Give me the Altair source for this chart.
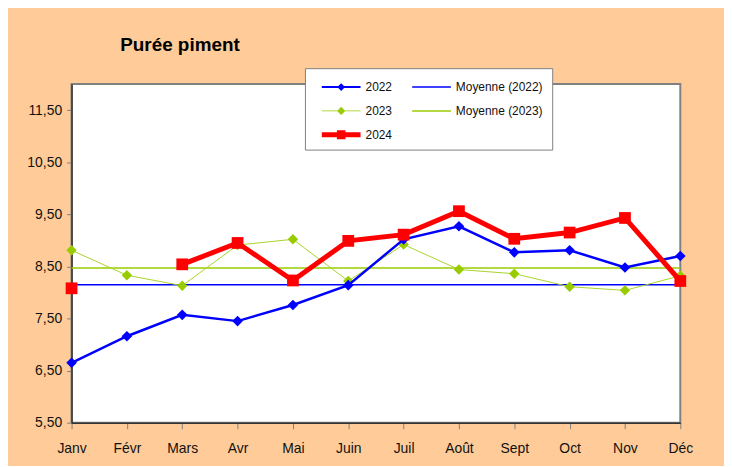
import altair as alt
import pandas as pd

mois = ["Janv", "Févr", "Mars", "Avr", "Mai", "Juin", "Juil", "Août", "Sept", "Oct", "Nov", "Déc"]
v2022 = [6.65, 7.16, 7.57, 7.45, 7.76, 8.14, 9.02, 9.27, 8.77, 8.81, 8.48, 8.70]
v2023 = [8.81, 8.33, 8.13, 8.91, 9.02, 8.22, 8.92, 8.44, 8.36, 8.11, 8.04, 8.32]
v2024 = [8.08, None, 8.54, 8.95, 8.23, 8.99, 9.11, 9.56, 9.03, 9.15, 9.43, 8.22]
y_ticks = [5.5, 6.5, 7.5, 8.5, 9.5, 10.5, 11.5]

# legend entries, column by column
series = ["2022", "2023", "2024", "Moyenne (2022)", "Moyenne (2023)"]

rows = []
for annee, vals in (("2022", v2022), ("2023", v2023), ("2024", v2024)):
    for m, v in zip(mois, vals):
        rows.append({"mois": m, "serie": annee, "valeur": v})
df = pd.DataFrame(rows)

FONT = "Liberation Sans"
BLEU, VERT, ROUGE = "#0000FF", "#99CC00", "#FF0000"
couleurs = [BLEU, VERT, ROUGE, BLEU, VERT]

# legend symbols: line (thin rectangle) + marker, in symbol units
legend_shapes = [
    "M-2,-0.1L2,-0.1L2,0.1L-2,0.1Z M-0.4,0L0,-0.4L0.4,0L0,0.4Z",
    "M-2,-0.05L2,-0.05L2,0.05L-2,0.05Z M-0.42,0L0,-0.42L0.42,0L0,0.42Z",
    "M-2,-0.25L2,-0.25L2,0.25L-2,0.25Z M-0.44,-0.46L0.44,-0.46L0.44,0.46L-0.44,0.46Z",
    "M-2,-0.077L2,-0.077L2,0.077L-2,0.077Z",
    "M-2,-0.077L2,-0.077L2,0.077L-2,0.077Z",
]

x_enc = alt.X(
    "mois:N", sort=mois, scale=alt.Scale(type="point", padding=0),
    axis=alt.Axis(title=None, labelAngle=0, grid=False, tickSize=6, tickColor="#808080",
                  domainColor="#333333", domainWidth=1.5, labelFont=FONT, labelFontSize=14,
                  labelColor="#111111", labelPadding=13),
)
y_axis = alt.Axis(title=None, values=y_ticks, grid=False, tickSize=5, tickColor="#808080",
                  domainColor="#333333", domainWidth=1.5, labelFont=FONT, labelFontSize=14,
                  labelColor="#111111", labelPadding=5,
                  labelExpr="replace(format(datum.value, '.2f'), '.', ',')")
y_scale = alt.Scale(domain=[5.5, 12.0], zero=False, nice=False)
y_enc = alt.Y("valeur:Q", scale=y_scale, axis=y_axis)

base = alt.Chart(df).encode(x=x_enc, y=y_enc)

layers = []
for annee, col in (("2022", BLEU), ("2023", VERT)):
    layers.append(
        alt.Chart(df)
        .transform_filter(f"datum.serie == '{annee}'")
        .mark_rule(strokeWidth=1.5, color=col)
        .encode(y=alt.Y("mean(valeur):Q", scale=y_scale, axis=y_axis))
    )

styles = {
    "2023": ("diamond", 110, 1, "#A8D42A", VERT),
    "2022": ("diamond", 115, 2.5, BLEU, BLEU),
    "2024": ("square", 140, 5, ROUGE, ROUGE),
}
for annee in ["2023", "2022", "2024"]:
    shape, size, lw, lcol, mcol = styles[annee]
    sub = base.transform_filter(f"datum.serie == '{annee}'")
    layers.append(sub.mark_line(strokeWidth=lw, color=lcol, invalid="break-paths-show-domains"))
    layers.append(sub.mark_point(filled=True, opacity=1, shape=shape, size=size, color=mcol))

leg = alt.Legend(
    title=None, orient="none", legendX=235, legendY=-16, columns=2, columnPadding=12,
    rowPadding=8, padding=9, fillColor="white", strokeColor="#808080",
    labelFont=FONT, labelFontSize=12, labelColor="#111111",
    symbolSize=380, symbolOffset=17.5, labelOffset=14.5, symbolStrokeWidth=0,
)
legend_layer = (
    alt.Chart(pd.DataFrame({"serie": series, "valeur": [None] * len(series)}))
    .mark_point(filled=True, opacity=1)
    .encode(
        y=alt.Y("valeur:Q", scale=y_scale, axis=y_axis),
        fill=alt.Fill("serie:N", scale=alt.Scale(domain=series, range=couleurs), legend=leg),
        shape=alt.Shape("serie:N", scale=alt.Scale(domain=series, range=legend_shapes), legend=leg),
    )
)
layers.append(legend_layer)

chart = (
    alt.layer(*layers)
    .properties(
        width=613, height=341,
        autosize=alt.AutoSizeParams(type="none"),
        padding={"left": 64, "top": 75, "right": 44, "bottom": 42},
        background="#FFCC99",
        title=alt.TitleParams("Purée piment", anchor="start", frame="group", font=FONT,
                              fontSize=19, fontWeight="bold", color="#000000", dx=49, dy=15,
                              baseline="alphabetic", offset=13),
    )
    .configure_view(fill="#FFFFFF", fillOpacity=1, stroke="#808080", strokeWidth=2)
)

chart.save("out.html", embed_options={"renderer": "svg", "actions": False})
